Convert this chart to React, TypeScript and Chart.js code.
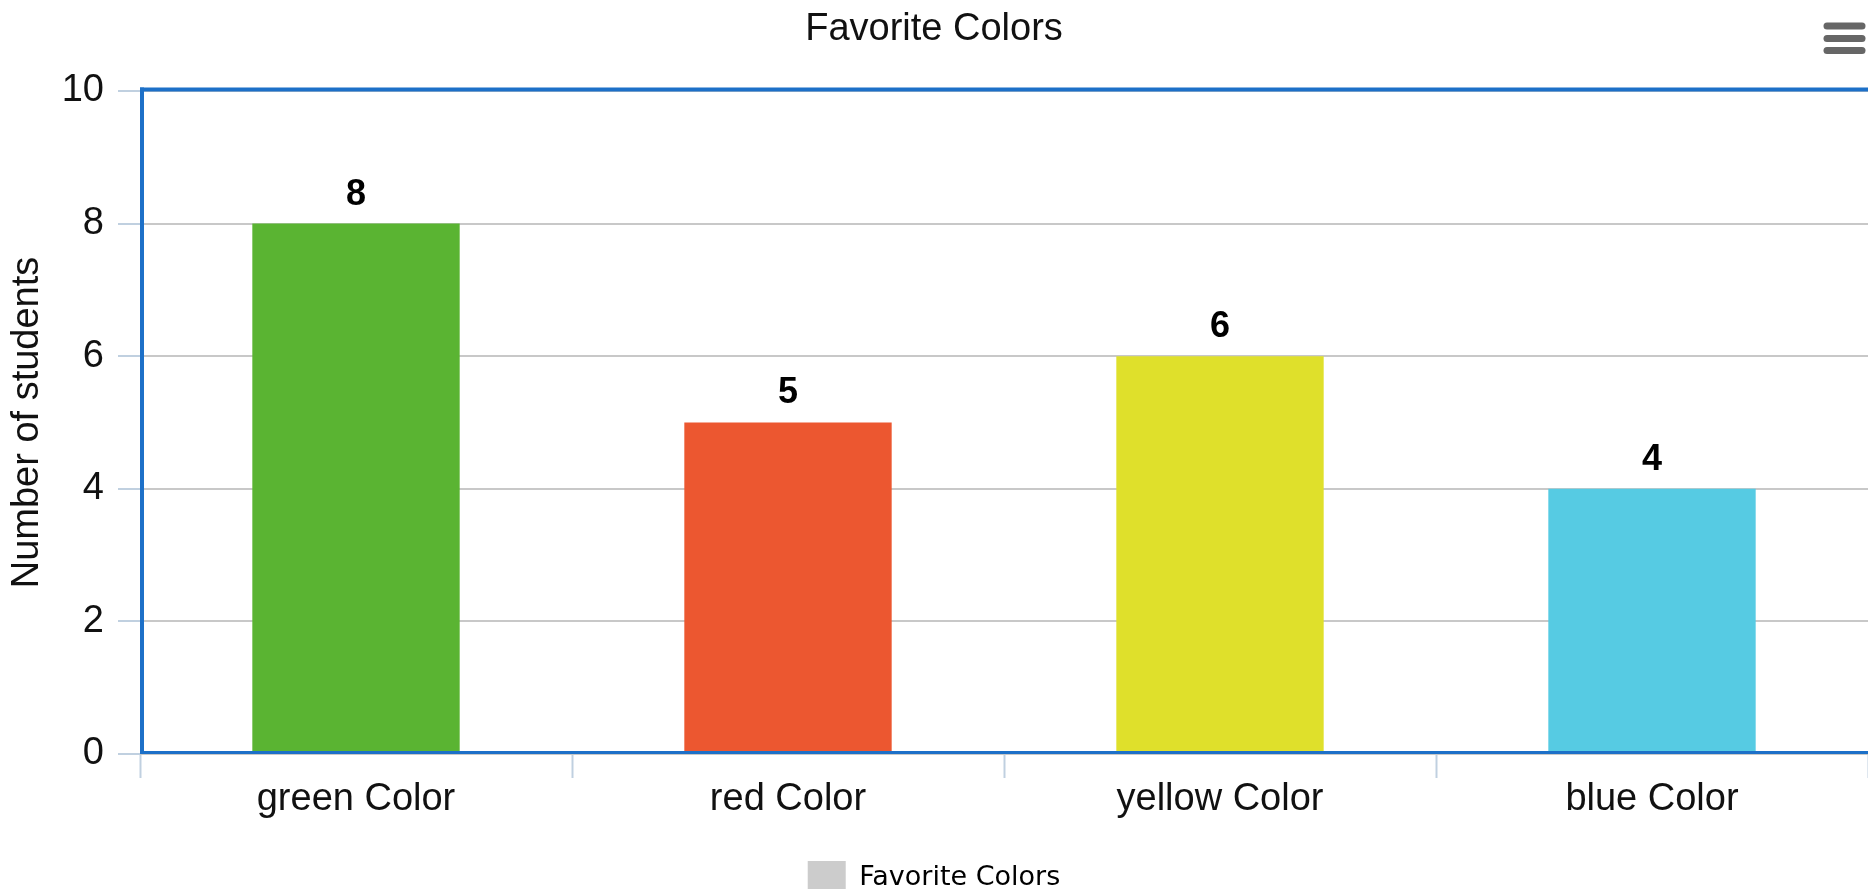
import React, { useEffect, useRef } from "react";
import { Chart, registerables } from "chart.js";

Chart.register(...registerables);

const chartTitle = "Favorite Colors";
const seriesName = "Favorite Colors";
const yAxisTitle = "Number of students";
const categories = ["green Color", "red Color", "yellow Color", "blue Color"];
const studentCounts = [8, 5, 6, 4];
const barColors = ["#5ab432", "#ec5730", "#dfe02b", "#56cbe3"];
const yMin = 0;
const yMax = 10;
const yStep = 2;

const FONT = "'Liberation Sans', Arial, Helvetica, sans-serif";
const W = 1868;
const H = 905;

const plotBorderPlugin = {
  id: "plotBorder",
  afterDatasetsDraw(chart: any) {
    const { ctx, chartArea } = chart;
    const { left, top, right, bottom } = chartArea;
    ctx.save();
    ctx.strokeStyle = "#1d70c8";
    ctx.lineCap = "butt";
    // top
    ctx.lineWidth = 4;
    ctx.beginPath();
    ctx.moveTo(left, top - 1.5);
    ctx.lineTo(right + 2, top - 1.5);
    ctx.stroke();
    // left
    ctx.beginPath();
    ctx.moveTo(left + 2, top - 3.5);
    ctx.lineTo(left + 2, bottom);
    ctx.stroke();
    // bottom axis line
    ctx.lineWidth = 3;
    ctx.beginPath();
    ctx.moveTo(left, bottom - 1.5);
    ctx.lineTo(right + 2, bottom - 1.5);
    ctx.stroke();
    ctx.restore();
  },
};

const dataLabelPlugin = {
  id: "dataLabels",
  afterDatasetsDraw(chart: any) {
    const { ctx } = chart;
    const meta = chart.getDatasetMeta(0);
    const values = chart.data.datasets[0].data;
    ctx.save();
    ctx.font = `bold 36px ${FONT}`;
    ctx.textAlign = "center";
    ctx.textBaseline = "middle";
    ctx.lineJoin = "round";
    meta.data.forEach((bar: any, i: number) => {
      const text = String(values[i]);
      const x = bar.x;
      const y = bar.y - 29;
      ctx.strokeStyle = "#ffffff";
      ctx.lineWidth = 4;
      ctx.strokeText(text, x, y);
      ctx.fillStyle = "#000000";
      ctx.fillText(text, x, y);
    });
    ctx.restore();
  },
};

const menuIconPlugin = {
  id: "menuIcon",
  afterDraw(chart: any) {
    const { ctx } = chart;
    ctx.save();
    ctx.strokeStyle = "#666666";
    ctx.lineWidth = 7;
    ctx.lineCap = "round";
    [26, 38.5, 50.5].forEach((y) => {
      ctx.beginPath();
      ctx.moveTo(1827, y);
      ctx.lineTo(1862, y);
      ctx.stroke();
    });
    ctx.restore();
  },
};

export default function App() {
  const canvasRef = useRef<HTMLCanvasElement | null>(null);

  useEffect(() => {
    if (!canvasRef.current) return;
    const chart = new Chart(canvasRef.current, {
      type: "bar",
      data: {
        labels: categories,
        datasets: [
          {
            label: seriesName,
            data: studentCounts,
            backgroundColor: barColors,
            borderWidth: 0,
            categoryPercentage: 1,
            barPercentage: 0.48,
          },
        ],
      },
      options: {
        animation: false,
        responsive: false,
        devicePixelRatio: 1,
        layout: { padding: 0 },
        plugins: {
          title: {
            display: true,
            text: chartTitle,
            color: "#111111",
            font: { family: FONT, size: 38, weight: "normal" },
            padding: { top: 6.5, bottom: 38.9 },
          },
          legend: {
            display: true,
            position: "bottom",
            labels: {
              boxWidth: 38,
              boxHeight: 34,
              padding: 10,
              color: "#3d4150",
              font: { family: "'DejaVu Sans', sans-serif", size: 27 },
              generateLabels: () => [
                {
                  text: seriesName,
                  fillStyle: "#cccccc",
                  strokeStyle: "#cccccc",
                  lineWidth: 0,
                  hidden: false,
                  datasetIndex: 0,
                },
              ],
            },
          },
          tooltip: { enabled: false },
        },
        scales: {
          x: {
            type: "category",
            offset: true,
            border: { display: false },
            grid: {
              offset: true,
              drawOnChartArea: false,
              drawTicks: true,
              tickLength: 24,
              tickColor: "#c0d0e0",
              tickWidth: 2,
            },
            ticks: {
              color: "#111111",
              font: { family: FONT, size: 38 },
              padding: -1.5,
              maxRotation: 0,
              autoSkip: false,
            },
            afterFit: (s: any) => {
              s.height = 97;
            },
          },
          y: {
            min: yMin,
            max: yMax,
            border: { display: false },
            grid: {
              color: "#c8c8c8",
              lineWidth: 2,
              drawTicks: true,
              tickLength: 22,
              tickColor: "#c0d0e0",
              tickWidth: 2,
            },
            ticks: {
              stepSize: yStep,
              color: "#111111",
              font: { family: FONT, size: 38 },
              padding: 14,
            },
            title: {
              display: true,
              text: yAxisTitle,
              color: "#111111",
              font: { family: FONT, size: 38 },
              padding: { top: 5, bottom: 4 },
            },
            afterFit: (s: any) => {
              s.width = 140;
            },
          },
        },
      },
      plugins: [plotBorderPlugin, dataLabelPlugin, menuIconPlugin],
    } as any);
    return () => chart.destroy();
  }, []);

  return (
    <div
      style={{
        position: "fixed",
        left: 0,
        top: 0,
        width: W,
        height: 889,
        overflow: "hidden",
        background: "#ffffff",
      }}
    >
      <canvas
        ref={canvasRef}
        width={W}
        height={H}
        style={{ width: W, height: H, display: "block" }}
      />
    </div>
  );
}
